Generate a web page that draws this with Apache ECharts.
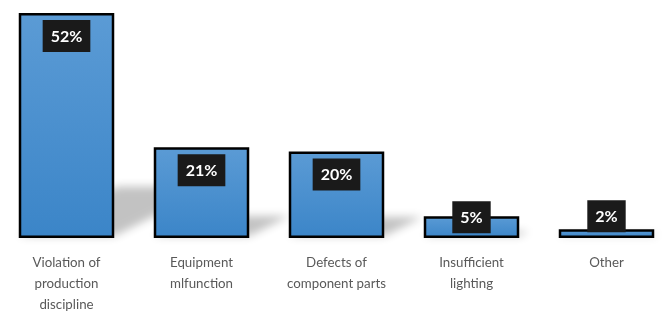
<!DOCTYPE html>
<html>
<head>
<meta charset="utf-8">
<script src="https://cdn.jsdelivr.net/npm/echarts@6/dist/echarts.min.js"></script>
<style>
html,body{margin:0;padding:0;background:#fff;overflow:hidden;}
#chart{width:675px;height:324px;margin-left:-1px;}
</style>
</head>
<body>
<div id="chart"></div>
<script>
const categories = ["Violation of\nproduction\ndiscipline", "Equipment\nmlfunction", "Defects of\ncomponent parts", "Insufficient\nlighting", "Other"];
const values = [52, 21, 20, 5, 2];
const labelOffsets = [0, 0, 0, -22, -36];

const BAR_W = 95.5;
const chart = echarts.init(document.getElementById('chart'), null, {renderer: 'canvas'});

const barData = values.map((v, i) => ({
  value: v,
  label: { offset: [0, labelOffsets[i]] }
}));

chart.setOption({
  animation: false,
  grid: { left: 0, right: 0, top: 13, bottom: 86, containLabel: false },
  xAxis: {
    type: 'category',
    data: categories,
    axisLine: { show: false },
    axisTick: { show: false },
    axisLabel: {
      color: '#595959',
      fontFamily: 'Lato',
      fontSize: 13.3,
      lineHeight: 21,
      margin: 14,
      interval: 0
    }
  },
  yAxis: {
    type: 'value',
    min: 0,
    max: 52,
    show: false,
    splitLine: { show: false }
  },
  series: [
    {
      type: 'custom',
      z: 1,
      silent: true,
      renderItem: function (params, api) {
        const base = api.coord([api.value(0), 0]);
        const top = api.coord([api.value(0), api.value(1)]);
        const H = base[1] - top[1];
        const h = 0.22 * H;
        const dx = 2 * h;
        const SH = 3000;
        const cx = base[0] - SH;
        const y = base[1] - 2;
        return {
          type: 'polygon',
          shape: {
            points: [
              [cx - BAR_W / 2, y],
              [cx + BAR_W / 2, y],
              [cx + BAR_W / 2 + dx, y - h],
              [cx - BAR_W / 2 + dx, y - h]
            ]
          },
          style: {
            fill: '#000',
            shadowColor: 'rgba(0,0,0,0.24)',
            shadowBlur: 8,
            shadowOffsetX: SH,
            shadowOffsetY: 0
          }
        };
      },
      data: values.map((v, i) => [i, v])
    },
    {
      type: 'bar',
      z: 3,
      barWidth: BAR_W,
      data: barData,
      itemStyle: {
        color: new echarts.graphic.LinearGradient(0, 0, 0, 1, [
          { offset: 0, color: '#5b9bd5' },
          { offset: 1, color: '#3b85c8' }
        ]),
        borderColor: '#000',
        borderWidth: 2.5
      },
      label: {
        show: true,
        position: 'insideTop',
        distance: 7,
        formatter: '{c}%',
        color: '#fff',
        fontFamily: 'Lato',
        fontWeight: 'bold',
        fontSize: 16,
        lineHeight: 19,
        backgroundColor: '#1a1a1a',
        padding: [7, 8, 6, 8]
      }
    }
  ]
});
</script>
</body>
</html>
